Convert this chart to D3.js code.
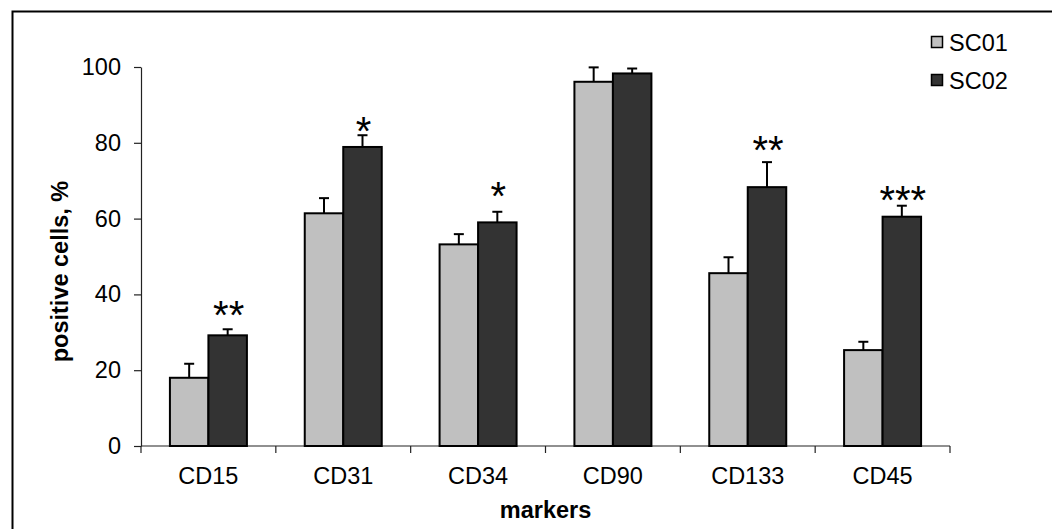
<!DOCTYPE html>
<html>
<head>
<meta charset="utf-8">
<script src="https://cdn.jsdelivr.net/npm/d3@7"></script>
<style>
  body { margin: 0; background: #fff; }
  text { font-family: "Liberation Sans", Arial, sans-serif; fill: #000; }
</style>
</head>
<body>
<div id="chart"></div>
<script>
// Data
const markers = ["CD15", "CD31", "CD34", "CD90", "CD133", "CD45"];
const seriesNames = ["SC01", "SC02"];
const sc01 = [18.0, 61.4, 53.2, 96.1, 45.6, 25.3];
const sc01Err = [3.7, 4.0, 2.7, 3.8, 4.2, 2.2];
const sc02 = [29.2, 78.9, 59.0, 98.3, 68.3, 60.5];
const sc02Err = [1.6, 3.1, 2.8, 1.3, 6.6, 2.9];
const stars = ["**", "*", "*", "", "**", "***"];
const starLevel = [36.9, 85.2, 68.2, 0, 80.3, 67.1];   // glyph centre, in %
const yTicks = [0, 20, 40, 60, 80, 100];
const colors = ["#c0c0c0", "#333333"];

const W = 1052, H = 529;
const plot = { left: 141, right: 950, top: 67, bottom: 446 };
const fontSize = 23.5;

const svg = d3.select("#chart").append("svg")
  .attr("width", W).attr("height", H);

// outer frame (only top/left visible in picture)
svg.append("rect")
  .attr("x", 12.5).attr("y", 11.5)
  .attr("width", W + 20).attr("height", H + 20)
  .attr("fill", "none").attr("stroke", "#000").attr("stroke-width", 2);

const x0 = d3.scaleBand()
  .domain(markers)
  .range([plot.left, plot.right])
  .paddingInner(0.429)
  .paddingOuter(0.2145);

const x1 = d3.scaleBand()
  .domain(seriesNames)
  .range([0, x0.bandwidth()]);

const y = d3.scaleLinear()
  .domain([0, 100])
  .range([plot.bottom, plot.top]);

// Y axis
const yAxis = svg.append("g")
  .attr("transform", `translate(${plot.left},0)`)
  .call(d3.axisLeft(y).tickValues(yTicks).tickSize(7).tickPadding(13).tickSizeOuter(0));
yAxis.selectAll("path, line").attr("stroke", "#222").attr("stroke-width", 1.2);
yAxis.selectAll("text")
  .style("font-family", "Liberation Sans, Arial, sans-serif")
  .style("font-size", fontSize + "px").attr("fill", "#000");

// X axis: ticks at category boundaries
const xAxisG = svg.append("g");
xAxisG.append("line")
  .attr("x1", plot.left).attr("x2", plot.right)
  .attr("y1", y(0)).attr("y2", y(0))
  .attr("stroke", "#222").attr("stroke-width", 1.2);
const bounds = markers.map(m => x0(m) - x0.step() * 0.2145).concat([plot.right]);
xAxisG.selectAll("line.tick")
  .data(bounds)
  .enter().append("line")
  .attr("class", "tick")
  .attr("x1", d => d).attr("x2", d => d)
  .attr("y1", y(0)).attr("y2", y(0) + 7)
  .attr("stroke", "#222").attr("stroke-width", 1.2);
xAxisG.selectAll("text")
  .data(markers)
  .enter().append("text")
  .attr("x", d => x0(d) + x0.bandwidth() / 2)
  .attr("y", 484)
  .attr("text-anchor", "middle")
  .attr("font-size", fontSize)
  .text(d => d);

// Bars
const rows = markers.map((m, i) => ({
  marker: m,
  vals: [
    { s: "SC01", v: sc01[i], e: sc01Err[i], c: colors[0] },
    { s: "SC02", v: sc02[i], e: sc02Err[i], c: colors[1] }
  ]
}));

const groups = svg.selectAll("g.grp")
  .data(rows)
  .enter().append("g")
  .attr("class", "grp")
  .attr("transform", d => `translate(${x0(d.marker)},0)`);

// error bars (drawn first, upward only)
groups.selectAll("g.err")
  .data(d => d.vals)
  .enter().append("g")
  .attr("class", "err")
  .each(function(d) {
    const g = d3.select(this);
    const cx = x1(d.s) + x1.bandwidth() / 2;
    g.append("line")
      .attr("x1", cx).attr("x2", cx)
      .attr("y1", y(d.v)).attr("y2", y(d.v + d.e))
      .attr("stroke", "#000").attr("stroke-width", 2);
    g.append("line")
      .attr("x1", cx - 5).attr("x2", cx + 5)
      .attr("y1", y(d.v + d.e)).attr("y2", y(d.v + d.e))
      .attr("stroke", "#000").attr("stroke-width", 2);
  });

groups.selectAll("rect")
  .data(d => d.vals)
  .enter().append("rect")
  .attr("x", d => x1(d.s))
  .attr("y", d => y(d.v))
  .attr("width", x1.bandwidth())
  .attr("height", d => y(0) - y(d.v))
  .attr("fill", d => d.c)
  .attr("stroke", "#000")
  .attr("stroke-width", 2);

// significance stars over SC02 bars
svg.selectAll("text.star")
  .data(markers.map((m, i) => ({ m, s: stars[i], lv: starLevel[i] })).filter(d => d.s))
  .enter().append("text")
  .attr("class", "star")
  .attr("x", d => x0(d.m) + x1("SC02") + x1.bandwidth() / 2 + 1)
  .attr("y", d => y(d.lv) + 0.56 * 40)
  .attr("text-anchor", "middle")
  .attr("font-size", 40)
  .text(d => d.s);

// Axis titles
svg.append("text")
  .attr("transform", `translate(68,${(plot.top + plot.bottom) / 2 + 15}) rotate(-90)`)
  .attr("text-anchor", "middle")
  .attr("font-size", fontSize)
  .attr("font-weight", "bold")
  .text("positive cells, %");

svg.append("text")
  .attr("x", (plot.left + plot.right) / 2)
  .attr("y", 518)
  .attr("text-anchor", "middle")
  .attr("font-size", fontSize)
  .attr("font-weight", "bold")
  .text("markers");

// Legend
const legend = svg.append("g").attr("transform", "translate(931,36)");
seriesNames.forEach((s, i) => {
  legend.append("rect")
    .attr("x", 0.5).attr("y", i * 38 + 0.5)
    .attr("width", 11).attr("height", 11)
    .attr("fill", colors[i]).attr("stroke", "#000").attr("stroke-width", 1.5);
  legend.append("text")
    .attr("x", 18).attr("y", i * 38 + 14.5)
    .attr("font-size", fontSize)
    .text(s);
});
</script>
</body>
</html>
